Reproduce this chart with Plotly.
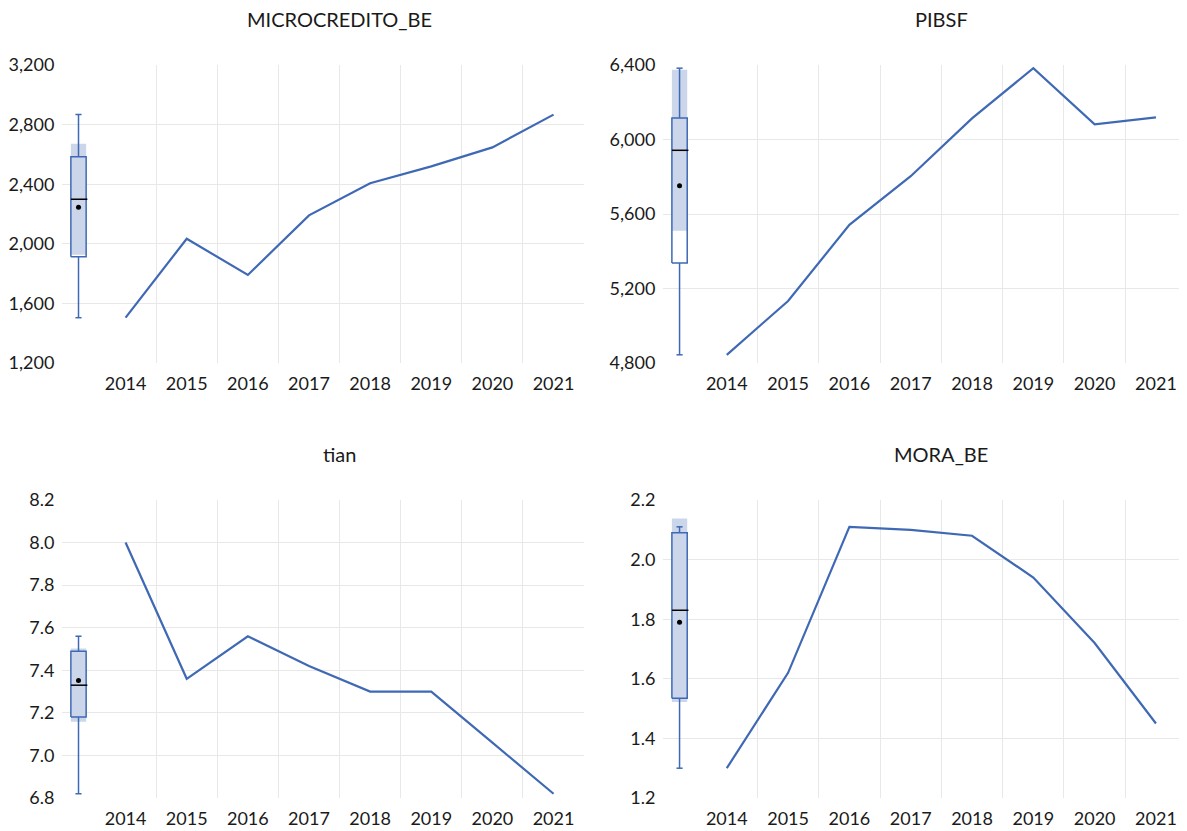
import numpy as np
import plotly.graph_objects as go

# ---------------- data ----------------
years = ["2014", "2015", "2016", "2017", "2018", "2019", "2020", "2021"]
microcredito_be = [1504, 2034, 1791, 2191, 2407, 2520, 2647, 2867]
pibsf = [4844, 5133, 5542, 5803, 6113, 6383, 6081, 6119]
tian = [8.00, 7.36, 7.56, 7.42, 7.30, 7.30, 7.06, 6.82]
mora_be = [1.30, 1.62, 2.11, 2.10, 2.08, 1.94, 1.72, 1.45]

titles = ["MICROCREDITO_BE", "PIBSF", "tian", "MORA_BE"]
series = [microcredito_be, pibsf, tian, mora_be]
y_ranges = [(1200, 3200), (4800, 6400), (6.8, 8.2), (1.2, 2.2)]
y_dticks = [400, 400, 0.2, 0.2]
y_formats = [",", ",", ".1f", ".1f"]

# ---------------- style ----------------
OFF = 8                      # page body margin
W, H = 1187 - OFF, 831 - OFF
LINE = "#3F69B4"
SHADE = "#CBD6EB"
GRID = "#E8E8E8"
FONT = "Lato"
TXT = "#1A1A1A"

BOX_C = -0.77   # box centre in x units
BOX_HW = 0.125  # box half width
CAP_HW = 0.05


def px_x(v):
    return min(1.0, (v - OFF) / W)


def px_y(v):
    return 1 - (v - OFF) / H


x_dom = [(px_x(62), px_x(583.5)), (px_x(663), px_x(1186))]
y_dom = [(px_y(363), px_y(65)), (px_y(798), px_y(500))]
x_range = [-1.04, 7.49]


def box_stats(v):
    s = sorted(v)
    n = len(s)
    med = float(np.median(s))
    lower = s[: n // 2]
    upper = s[(n + 1) // 2:]
    q1 = float(np.median(lower))
    q3 = float(np.median(upper))
    iqr = q3 - q1
    lo_f, hi_f = q1 - 1.5 * iqr, q3 + 1.5 * iqr
    wlo = min(x for x in s if x >= lo_f)
    whi = max(x for x in s if x <= hi_f)
    ci = 1.57 * iqr / np.sqrt(n)
    return dict(q1=q1, q3=q3, med=med, wlo=wlo, whi=whi,
                cilo=med - ci, cihi=med + ci, mean=float(np.mean(s)))


fig = go.Figure()
xs = list(range(len(years)))
# title centred over the line part of each panel
t_frac = ((len(years) - 1) / 2 - x_range[0]) / (x_range[1] - x_range[0])

for i, vals in enumerate(series):
    r, c = divmod(i, 2)
    k = "" if i == 0 else str(i + 1)
    xa, ya = "x" + k, "y" + k
    st = box_stats(vals)
    L, R = BOX_C - BOX_HW, BOX_C + BOX_HW

    # median confidence band (shaded)
    fig.add_trace(go.Scatter(
        x=[L, R, R, L, L], y=[st["cilo"], st["cilo"], st["cihi"], st["cihi"], st["cilo"]],
        fill="toself", fillcolor=SHADE, line=dict(width=0), mode="lines",
        xaxis=xa, yaxis=ya, hoverinfo="skip", showlegend=False))
    # whiskers with caps
    fig.add_trace(go.Scatter(
        x=[BOX_C, BOX_C, None, BOX_C, BOX_C, None,
           BOX_C - CAP_HW, BOX_C + CAP_HW, None, BOX_C - CAP_HW, BOX_C + CAP_HW],
        y=[st["q3"], st["whi"], None, st["q1"], st["wlo"], None,
           st["whi"], st["whi"], None, st["wlo"], st["wlo"]],
        mode="lines", line=dict(color=LINE, width=1.5),
        xaxis=xa, yaxis=ya, hoverinfo="skip", showlegend=False))
    # box outline
    fig.add_trace(go.Scatter(
        x=[L, R, R, L, L], y=[st["q1"], st["q1"], st["q3"], st["q3"], st["q1"]],
        mode="lines", line=dict(color=LINE, width=1.5),
        xaxis=xa, yaxis=ya, hoverinfo="skip", showlegend=False))
    # median line
    fig.add_trace(go.Scatter(
        x=[L, R + 0.02], y=[st["med"], st["med"]],
        mode="lines", line=dict(color="black", width=1.5),
        xaxis=xa, yaxis=ya, hoverinfo="skip", showlegend=False))
    # mean dot
    fig.add_trace(go.Scatter(
        x=[BOX_C], y=[st["mean"]], mode="markers",
        marker=dict(color="black", size=5),
        xaxis=xa, yaxis=ya, hoverinfo="skip", showlegend=False))
    # series line
    fig.add_trace(go.Scatter(
        x=xs, y=vals, mode="lines", line=dict(color=LINE, width=2.2),
        xaxis=xa, yaxis=ya, name=titles[i], showlegend=False))

    fig.layout["xaxis" + k] = dict(
        domain=list(x_dom[c]), anchor=ya, range=x_range,
        tickmode="array", tickvals=xs, ticktext=years,
        showgrid=False, zeroline=False, showline=False,
        ticks="outside", ticklen=4, tickcolor="rgba(0,0,0,0)",
        tickfont=dict(family=FONT, size=18, color=TXT),
        minor=dict(tickmode="array", tickvals=[x + 0.5 for x in xs[:-1]],
                   showgrid=True, gridcolor=GRID, gridwidth=1, ticks=""),
        automargin=False, fixedrange=True)
    lo, hi = y_ranges[i]
    fig.layout["yaxis" + k] = dict(
        domain=list(y_dom[r]), anchor=xa, range=[lo, hi],
        tick0=lo, dtick=y_dticks[i], tickformat=y_formats[i],
        showgrid=True, gridcolor=GRID, gridwidth=1,
        zeroline=False, showline=False,
        ticks="outside", ticklen=3, tickcolor="rgba(0,0,0,0)",
        tickfont=dict(family=FONT, size=18, color=TXT),
        automargin=False, fixedrange=True)

    fig.add_annotation(
        text=titles[i], xref="paper", yref="paper",
        x=x_dom[c][0] + t_frac * (x_dom[c][1] - x_dom[c][0]),
        y=y_dom[r][1] + 46 / H, xanchor="center", yanchor="middle",
        showarrow=False, font=dict(family=FONT, size=20, color=TXT))

fig.update_layout(
    template="none",
    width=W, height=H,
    margin=dict(l=0, r=0, t=0, b=0, autoexpand=False),
    paper_bgcolor="white", plot_bgcolor="white",
    showlegend=False,
)

fig.write_html("out.html")
